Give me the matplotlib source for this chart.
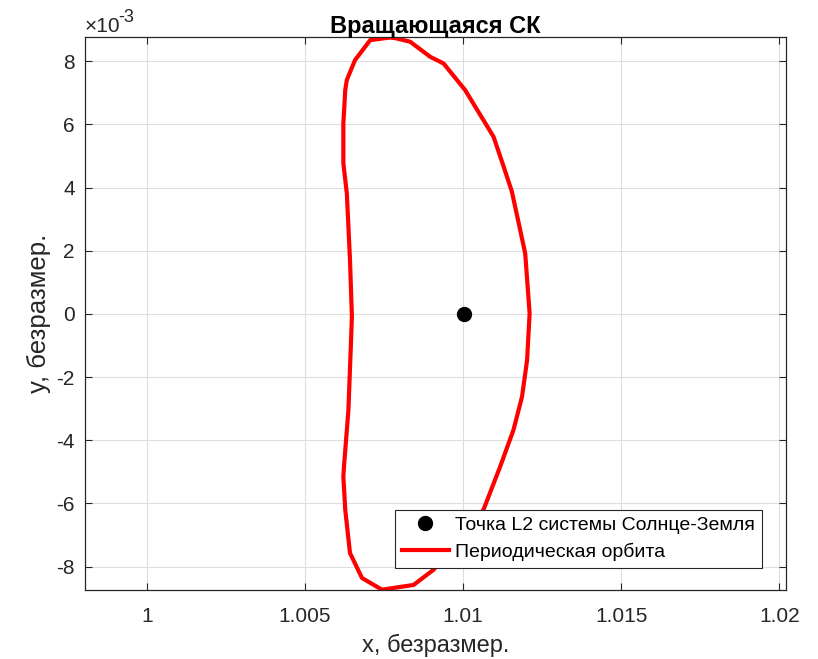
import numpy as np
import matplotlib
matplotlib.use("Agg")
import matplotlib.pyplot as plt
from matplotlib.ticker import FuncFormatter


plt.rcParams['font.family'] = ['Liberation Sans', 'DejaVu Sans']
plt.rcParams['axes.unicode_minus'] = False

# periodic orbit, traced clockwise starting at the top point (x, y)
orbit_x = [1.00774, 1.00832, 1.00896, 1.00938, 1.01006, 1.01096, 1.01128,
           1.01154, 1.01196, 1.01210, 1.01202, 1.01186, 1.01159, 1.01117,
           1.01064, 1.00990, 1.00906, 1.00843, 1.00743, 1.00680, 1.00642,
           1.00627, 1.00621, 1.00623, 1.00637, 1.00645, 1.00648, 1.00642,
           1.00632, 1.00621, 1.00621, 1.00627, 1.00632, 1.00658, 1.00706,
           1.00774]
orbit_y = [8.76, 8.62, 8.14, 7.93, 7.09, 5.61, 4.66,
           3.87, 1.92, 0.02, -1.46, -2.62, -3.67, -4.83,
           -6.20, -7.15, -8.10, -8.58, -8.73, -8.36, -7.57,
           -6.20, -5.15, -4.83, -3.04, -0.93, -0.08, 1.71,
           3.82, 4.77, 6.03, 7.09, 7.41, 8.04, 8.67,
           8.76]
orbit_y = [v * 1e-3 for v in orbit_y]

l2_x = [1.01001]
l2_y = [0.0]

x_ticks = [1.0, 1.005, 1.01, 1.015, 1.02]
y_ticks = [-8e-3, -6e-3, -4e-3, -2e-3, 0, 2e-3, 4e-3, 6e-3, 8e-3]

title = 'Вращающаяся СК'
x_label = 'x, безразмер.'
y_label = 'y, безразмер.'
labels = ['Точка L2 системы Солнце-Земля', 'Периодическая орбита']

txt_col = '#262626'

fig = plt.figure(figsize=(8.18, 6.59), dpi=100)
ax = fig.add_axes([0.1035, 0.1047, 0.8575, 0.8392])

ax.plot(l2_x, l2_y, 'o', color='black', markersize=10, label=labels[0], zorder=3)
ax.plot(orbit_x, orbit_y, '-', color=(1, 0, 0), linewidth=3, label=labels[1], zorder=2)

ax.set_xlim(0.99803, 1.02021)
ax.set_ylim(-8.74e-3, 8.77e-3)
ax.set_xticks(x_ticks)
ax.set_yticks(y_ticks)
ax.xaxis.set_major_formatter(FuncFormatter(lambda v, p: '%g' % v))
ax.yaxis.set_major_formatter(FuncFormatter(lambda v, p: '%g' % round(v * 1e3, 6)))

# exponent label in matlab style
ax.text(0.0, 1.001, '\u00d710', transform=ax.transAxes, fontsize=15,
        color=txt_col, ha='left', va='bottom')
ax.text(0.0475, 1.020, '-3', transform=ax.transAxes, fontsize=13,
        color=txt_col, ha='left', va='bottom')

ax.grid(True, color='#dedede', linewidth=0.8)
ax.set_axisbelow(True)
ax.tick_params(direction='in', length=5, width=0.8, top=True, right=True,
               labelsize=15, colors=txt_col, labelcolor=txt_col)
ax.tick_params(axis='x', pad=12)
ax.tick_params(axis='y', pad=7)
for s in ax.spines.values():
    s.set_color(txt_col)
    s.set_linewidth(0.9)

ax.set_title(title, fontsize=17, fontweight='bold', pad=3)
ax.set_xlabel(x_label, fontsize=17, color=txt_col, labelpad=6)
ax.set_ylabel(y_label, fontsize=18.5, color=txt_col, labelpad=4)

leg = ax.legend(loc='lower right', bbox_to_anchor=(0.9658, 0.0398),
                borderaxespad=0, fontsize=14, fancybox=False, framealpha=1,
                edgecolor=txt_col, handlelength=2.4, handletextpad=0.35,
                borderpad=0.35, labelspacing=0.45)
leg.get_frame().set_linewidth(0.8)

fig.savefig('out.png', dpi=100)
